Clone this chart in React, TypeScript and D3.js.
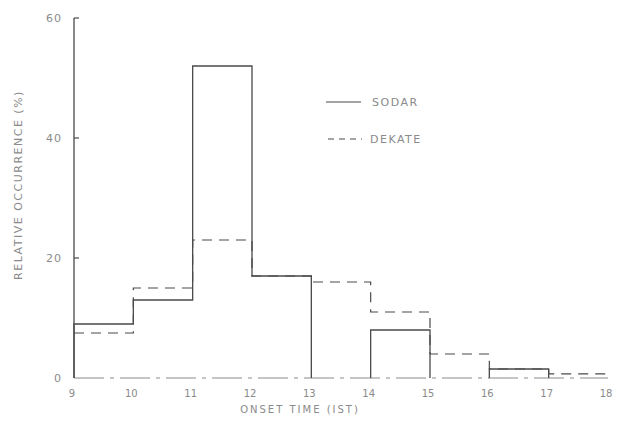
import React from "react";
import * as d3 from "d3";

const binStarts = [9, 10, 11, 12, 13, 14, 15, 16, 17];
const sodar = [9, 13, 52, 17, 0, 8, 0, 1.5, 0];
const dekate = [7.5, 15, 23, 17, 16, 11, 4, 1.5, 0.7];
const xTicks = [9, 10, 11, 12, 13, 14, 15, 16, 17, 18];
const yTicks = [0, 20, 40, 60];

const W = 621;
const H = 425;

export default function App() {
  const x = d3.scaleLinear().domain([9, 18]).range([74, 608]);
  const y = d3.scaleLinear().domain([0, 60]).range([378, 18]);

  const stepLine = d3
    .line<[number, number]>()
    .x((d) => x(d[0]))
    .y((d) => y(d[1]))
    .curve(d3.curveStepAfter);

  // split sodar into runs of non-zero bins
  const sodarRuns: [number, number][][] = [];
  let cur: [number, number][] | null = null;
  binStarts.forEach((b, i) => {
    const v = sodar[i];
    if (v > 0) {
      if (!cur) {
        cur = [[b, 0]];
      }
      cur.push([b, v]);
    } else if (cur) {
      cur.push([b, cur[cur.length - 1][1]]);
      cur.push([b, 0]);
      sodarRuns.push(cur);
      cur = null;
    }
  });
  if (cur) {
    const c = cur as [number, number][];
    c.push([18, c[c.length - 1][1]]);
    c.push([18, 0]);
    sodarRuns.push(c);
  }

  const dekPts: [number, number][] = [];
  binStarts.forEach((b, i) => dekPts.push([b, dekate[i]]));
  dekPts.push([18, dekate[dekate.length - 1]]);
  dekPts.push([18, 0]);

  const textColor = "#8a8a8a";
  const lineColor = "#4a4a4a";
  const font = "'DejaVu Sans', sans-serif";

  return (
    <svg
      width={W}
      height={H}
      style={{ position: "absolute", left: 0, top: 0, background: "#fff" }}
    >
      {/* baseline */}
      <line
        x1={x(9)}
        x2={x(18)}
        y1={y(0)}
        y2={y(0)}
        stroke="#8a8a8a"
        strokeWidth={1}
        strokeDasharray="30 6 4 6"
      />
      {/* y axis */}
      <line x1={x(9)} x2={x(9)} y1={y(60)} y2={y(0)} stroke={lineColor} strokeWidth={1.3} />
      {yTicks.map((t) => (
        <g key={t}>
          {t > 0 && (
            <line x1={x(9)} x2={x(9) + 5} y1={y(t)} y2={y(t)} stroke={lineColor} strokeWidth={1.2} />
          )}
          <text
            x={x(9) - 12}
            y={y(t) + 4}
            textAnchor="end"
            fontFamily={font}
            fontSize={11}
            fill={textColor}
            letterSpacing={1}
          >
            {t}
          </text>
        </g>
      ))}
      {xTicks.map((t) => (
        <text
          key={t}
          x={x(t) - 2}
          y={397}
          textAnchor="middle"
          fontFamily={font}
          fontSize={10}
          fill={textColor}
        >
          {t}
        </text>
      ))}
      {sodarRuns.map((run, i) => (
        <path key={i} d={stepLine(run) || ""} fill="none" stroke={lineColor} strokeWidth={1.3} />
      ))}
      <path
        d={stepLine(dekPts) || ""}
        fill="none"
        stroke={lineColor}
        strokeWidth={1.2}
        strokeDasharray="10 7"
      />
      {/* legend */}
      <line x1={326} x2={361} y1={102} y2={102} stroke={lineColor} strokeWidth={1.2} />
      <text x={372} y={106} fontFamily={font} fontSize={11} fill={textColor} letterSpacing={1.5}>
        SODAR
      </text>
      <line
        x1={328}
        x2={362}
        y1={139}
        y2={139}
        stroke={lineColor}
        strokeWidth={1.2}
        strokeDasharray="6 5"
      />
      <text x={370} y={143} fontFamily={font} fontSize={11} fill={textColor} letterSpacing={1.5}>
        DEKATE
      </text>
      {/* axis titles */}
      <text
        x={300}
        y={413}
        textAnchor="middle"
        fontFamily={font}
        fontSize={10}
        fill={textColor}
        letterSpacing={2}
      >
        ONSET TIME (IST)
      </text>
      <text
        transform={`translate(22, 185) rotate(-90)`}
        textAnchor="middle"
        fontFamily={font}
        fontSize={11}
        fill={textColor}
        letterSpacing={1.5}
      >
        RELATIVE OCCURRENCE (%)
      </text>
    </svg>
  );
}
